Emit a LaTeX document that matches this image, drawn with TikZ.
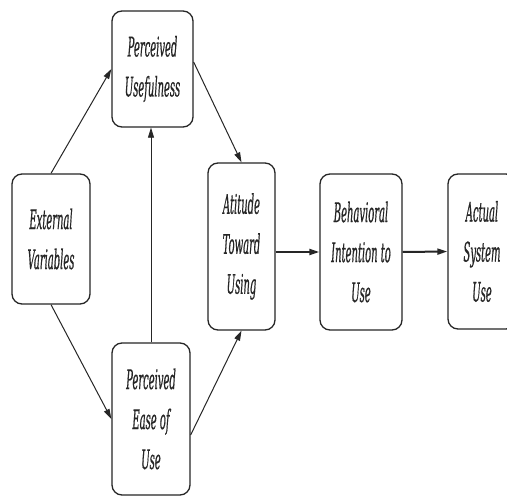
\documentclass[tikz,border=0pt]{standalone}
\usepackage{fontspec}
\newfontfamily\boxfont[FakeStretch=0.37,FakeBold=0.5]{DejaVu Serif}
\usetikzlibrary{arrows.meta}
\begin{document}
\begin{tikzpicture}[x=1pt,y=-1pt,
  box/.style={draw=black!85, line width=1.3pt, rounded corners=10pt, align=center,
    inner sep=0pt, font=\boxfont\itshape\fontsize{27}{40}\selectfont, text=black!85},
  arr/.style={-{Triangle[length=10pt,width=6pt]}, line width=1pt, draw=black!85},
  thickarr/.style={arr, line width=2pt},
  thinarr/.style={arr, line width=0.7pt}]
\useasboundingbox (0,0) rectangle (507,497);
\clip (0,0) rectangle (507,497);
\fill[white] (0,0) rectangle (507,497);

\node[box, minimum width=81pt, minimum height=116pt] (pu) at (152.5,69) {Perceived\\Usefulness};
\node[box, minimum width=78pt, minimum height=130pt] (ev) at (51,239) {External\\Variables};
\node[box, minimum width=67pt, minimum height=167pt] (at) at (241.5,246.5) {Atitude\\Toward\\Using};
\node[box, minimum width=82pt, minimum height=156pt] (bi) at (361,252) {Behavioral\\Intention to\\Use};
\node[box, minimum width=68pt, minimum height=155pt] (as) at (482,251.5) {Actual\\System\\Use};
\node[box, minimum width=78pt, minimum height=152pt] (peou) at (151,419) {Perceived\\Ease of\\Use};

\draw[arr] (ev.north) -- (pu.west);
\draw[arr] (ev.south) -- (peou.west);
\draw[arr] ([yshift=7pt]pu.east) -- (at.north);
\draw[thinarr] (peou.north) -- (peou.north |- pu.south);
\draw[arr] ([yshift=-16pt]peou.east) -- (at.south);
\draw[thickarr] (at.east |- bi.west) -- (bi.west);
\draw[thickarr] (bi.east) -- (as.west);
\end{tikzpicture}
\end{document}
